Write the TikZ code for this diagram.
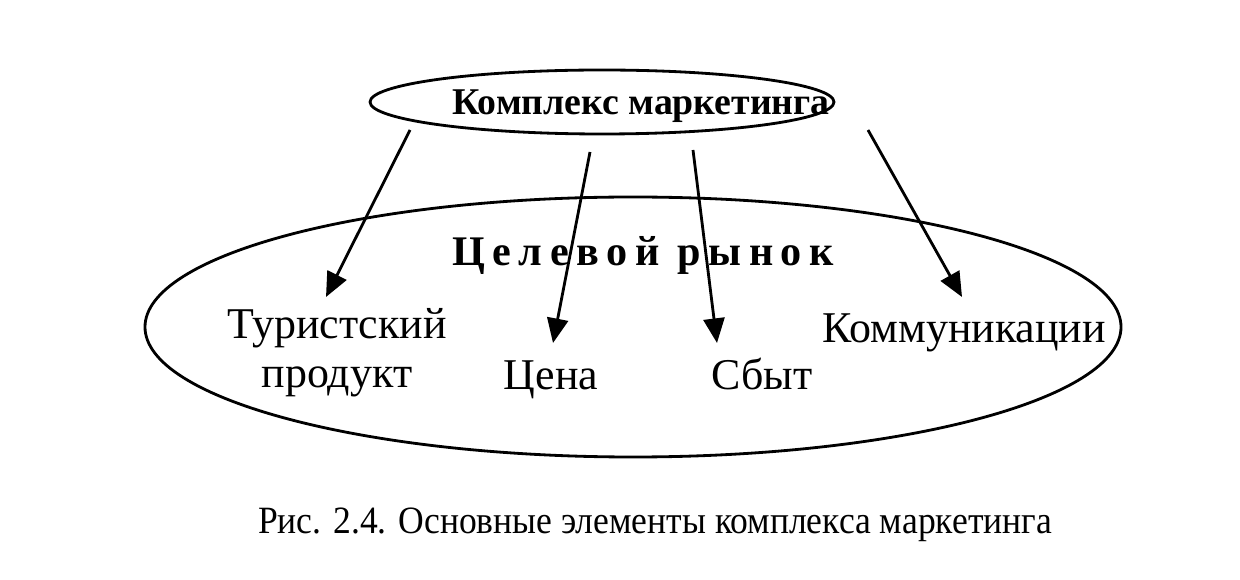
\documentclass[tikz,border=0pt]{standalone}
\usepackage{fontspec}
\usepackage{graphicx}
\setmainfont{Liberation Serif}
\usetikzlibrary{arrows.meta,shapes.geometric}
\begin{document}
\begin{tikzpicture}[x=0.02cm,y=-0.02cm,
  oval/.style={draw,line width=1.6pt},
  lbl/.style={font=\fontsize{25}{27}\selectfont,anchor=base,inner sep=0pt},
  arr/.style={line width=1.6pt,-{Triangle[length=14pt,width=12pt]}}]
\useasboundingbox (0,0) rectangle (1240,580);
\draw[oval] (602,102) ellipse [x radius=232, y radius=32];
\draw[oval] (633,327) ellipse [x radius=488, y radius=130];
\node[lbl,font=\fontsize{21.5}{24}\selectfont\bfseries] (top) at (641,115) {Комплекс маркетинга};
\node[lbl,font=\fontsize{24}{26}\selectfont\bfseries\addfontfeatures{LetterSpace=18}] (market) at (643,266) {Целевой рынок};
\node[lbl,align=center] (prod) at (337,388) {Туристский\\[1pt]продукт};
\node[lbl] (price) at (551,390) {Цена};
\node[lbl] (sales) at (762,390) {Сбыт};
\node[lbl] (comm) at (964,343) {Коммуникации};
\node[lbl,font=\fontsize{22}{26}\selectfont] (cap) at (655,533) {\scalebox{0.92}[1]{Рис. 2.4. Основные элементы комплекса маркетинга}};
\coordinate (s1) at (410,130); \coordinate (e1) at (326,297);
\coordinate (s2) at (590,152); \coordinate (e2) at (553,343);
\coordinate (s3) at (693,150); \coordinate (e3) at (717,343);
\coordinate (s4) at (868,130); \coordinate (e4) at (962,297);
\draw[arr] (s1) -- (e1);
\draw[arr] (s2) -- (e2);
\draw[arr] (s3) -- (e3);
\draw[arr] (s4) -- (e4);
\end{tikzpicture}
\end{document}
